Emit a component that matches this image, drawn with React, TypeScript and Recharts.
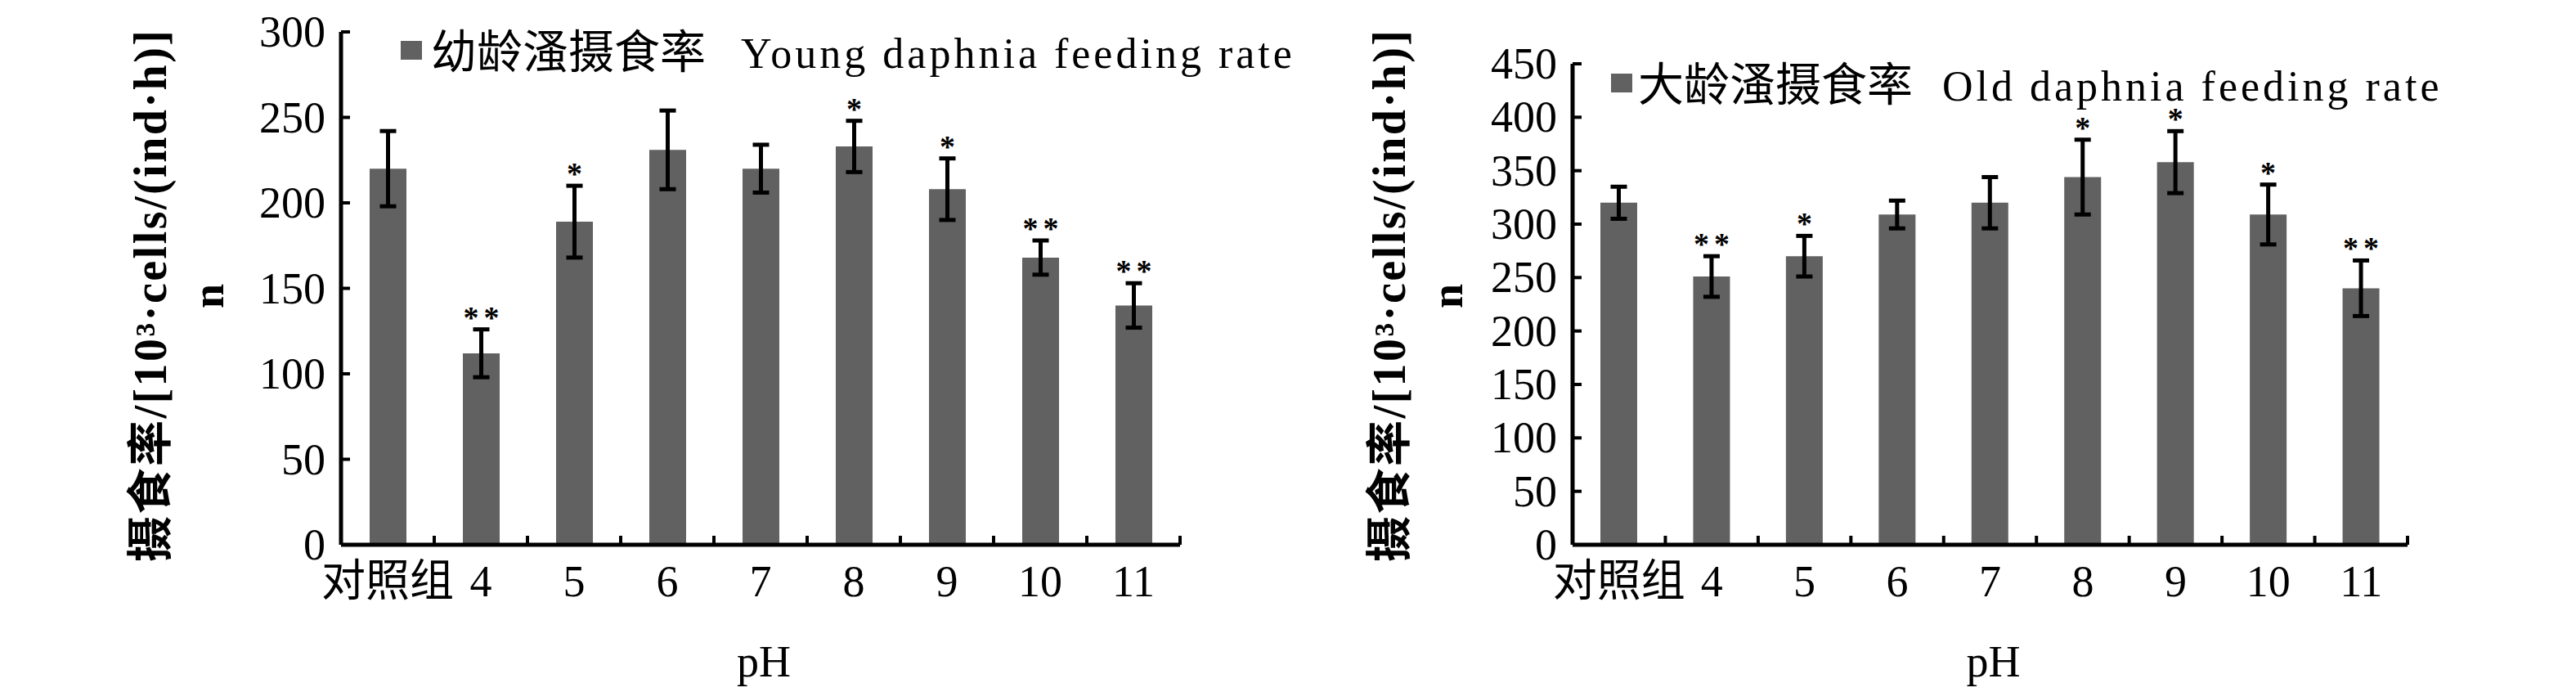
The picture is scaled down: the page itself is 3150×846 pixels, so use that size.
import React from "react";
import {
  BarChart,
  Bar,
  XAxis,
  YAxis,
  ErrorBar,
  LabelList,
  Legend,
} from "recharts";

const categories = ["对照组", "4", "5", "6", "7", "8", "9", "10", "11"];

// young daphnia
const youngRate = [220, 112, 189, 231, 220, 233, 208, 168, 140];
const youngErr = [22, 14, 21, 23, 14, 15, 18, 10, 13];
const youngSig = ["", "**", "*", "", "", "*", "*", "**", "**"];
const youngTicks = [0, 50, 100, 150, 200, 250, 300];
const youngLegend = ["幼龄溞摄食率", "Young daphnia feeding rate"];

// old daphnia
const oldRate = [320, 251, 270, 309, 320, 344, 358, 309, 240];
const oldErr = [15, 19, 19, 13, 24, 35, 29, 28, 26];
const oldSig = ["", "**", "*", "", "", "*", "*", "*", "**"];
const oldTicks = [0, 50, 100, 150, 200, 250, 300, 350, 400, 450];
const oldLegend = ["大龄溞摄食率", "Old daphnia feeding rate"];

const yTitle = "摄食率/[10³·cells/(ind·h)]";
const yTitle2 = "n";
const xTitle = "pH";

const FONT = "'Liberation Serif', 'Noto Sans CJK SC', serif";
const BAR = "#616161";
const W = 1575;
const H = 846;

interface Layout {
  left: number;
  top: number;
  axisW: number;
  right: number;
  legendX: number;
  legendBase: number;
  cjkX: number;
  latinX: number;
  titleX: number;
  nX: number;
}

const youngLayout: Layout = {
  left: 0,
  top: 39,
  axisW: 417,
  right: W - 1443,
  legendX: 490,
  legendBase: 83,
  cjkX: 527,
  latinX: 906,
  titleX: 184,
  nX: 255,
};

const oldLayout: Layout = {
  left: 1575,
  top: 78,
  axisW: 348,
  right: W - 1369,
  legendX: 395,
  legendBase: 123,
  cjkX: 428,
  latinX: 800,
  titleX: 124,
  nX: 195,
};

function YTick(props: any) {
  const { x, y, payload } = props;
  return (
    <g>
      <line x1={x} x2={x + 11} y1={y} y2={y} stroke="#000" strokeWidth={4} />
      <text
        x={x - 19}
        y={y}
        textAnchor="end"
        dominantBaseline="central"
        fontSize={54}
        fontFamily={FONT}
        fill="#000"
      >
        {payload.value}
      </text>
    </g>
  );
}

function XTick(props: any) {
  const { x, y, payload, band } = props;
  return (
    <g>
      <line
        x1={x + band / 2}
        x2={x + band / 2}
        y1={y}
        y2={y - 11}
        stroke="#000"
        strokeWidth={4}
      />
      <text
        x={x}
        y={y + 45}
        textAnchor="middle"
        dominantBaseline="central"
        fontSize={54}
        fontFamily={FONT}
        fill="#000"
      >
        {payload.value}
      </text>
    </g>
  );
}

function YTitle({ cx, nx }: { cx: number; nx: number }) {
  const cy = 362;
  return (
    <g fontFamily={FONT} fontWeight="bold" fill="#000">
      <text
        x={cx}
        y={cy}
        transform={`rotate(-90, ${cx}, ${cy})`}
        textAnchor="middle"
        dominantBaseline="central"
        fontSize={56}
        textLength={650}
        lengthAdjust="spacing"
      >
        {yTitle}
      </text>
      <text
        x={nx}
        y={cy}
        transform={`rotate(-90, ${nx}, ${cy})`}
        textAnchor="middle"
        dominantBaseline="central"
        fontSize={54}
      >
        {yTitle2}
      </text>
    </g>
  );
}

function XTitle(props: any) {
  const { viewBox } = props;
  const cx = viewBox.x + viewBox.width / 2 + 4;
  return (
    <text
      x={cx}
      y={827}
      textAnchor="middle"
      fontSize={54}
      fontFamily={FONT}
      fill="#000"
    >
      {xTitle}
    </text>
  );
}

function LegendBox({ layout, label }: { layout: Layout; label: string[] }) {
  const b = layout.legendBase;
  return (
    <svg width={W} height={160} style={{ display: "block", overflow: "visible" }}>
      <rect x={layout.legendX} y={b - 33} width={26} height={23} fill={BAR} />
      <text
        x={layout.cjkX}
        y={b}
        fill="#000"
        fontSize={56}
        fontFamily="'Noto Sans CJK SC', sans-serif"
      >
        {label[0]}
      </text>
      <text
        x={layout.latinX}
        y={b}
        fill="#000"
        fontSize={52}
        fontFamily="'Liberation Serif', serif"
        letterSpacing={4}
      >
        {label[1]}
      </text>
    </svg>
  );
}

interface ChartProps {
  rate: number[];
  err: number[];
  sig: string[];
  ticks: number[];
  label: string[];
  layout: Layout;
}

function FeedingChart({ rate, err, sig, ticks, label, layout }: ChartProps) {
  const data = categories.map((name, i) => ({
    name,
    rate: rate[i],
    err: err[i],
    sig: sig[i],
  }));
  const plotW = W - layout.axisW - layout.right;
  const band = plotW / categories.length;

  const renderSig = (p: any) => {
    const { x, y, width, height, index } = p;
    const txt = sig[index];
    if (!txt) return null;
    const v = rate[index];
    const errTop = y - (err[index] * height) / v;
    return (
      <text
        x={x + width / 2 + 3}
        y={errTop - 2}
        textAnchor="middle"
        fontSize={38}
        fontWeight="bold"
        letterSpacing={6}
        fontFamily="'Liberation Serif', serif"
        fill="#000"
      >
        {txt}
      </text>
    );
  };

  return (
    <div style={{ position: "absolute", left: layout.left, top: 0 }}>
      <BarChart
        width={W}
        height={H}
        data={data}
        barSize={45}
        margin={{ top: layout.top, right: layout.right, bottom: 0, left: 0 }}
      >
        <XAxis
          dataKey="name"
          interval={0}
          height={H - 666}
          tickSize={0}
          tickMargin={0}
          tickLine={false}
          axisLine={{ stroke: "#000", strokeWidth: 5 }}
          tick={<XTick band={band} />}
          label={<XTitle />}
        />
        <YAxis
          type="number"
          domain={[0, ticks[ticks.length - 1]]}
          ticks={ticks}
          interval={0}
          width={layout.axisW}
          tickSize={0}
          tickMargin={0}
          tickLine={false}
          axisLine={{ stroke: "#000", strokeWidth: 5 }}
          tick={<YTick />}
          label={<YTitle cx={layout.titleX} nx={layout.nX} />}
        />
        <Legend
          layout="horizontal"
          verticalAlign="middle"
          align="center"
          wrapperStyle={{ left: 0, top: 0, width: W, height: 160 }}
          content={() => <LegendBox layout={layout} label={label} />}
        />
        <Bar
          dataKey="rate"
          name={label.join(" ")}
          fill={BAR}
          isAnimationActive={false}
        >
          <ErrorBar
            dataKey="err"
            width={10}
            stroke="#000"
            strokeWidth={5}
            direction="y"
            isAnimationActive={false}
          />
          <LabelList dataKey="sig" content={renderSig} />
        </Bar>
      </BarChart>
    </div>
  );
}

export default function App() {
  return (
    <div
      style={{
        position: "absolute",
        left: 0,
        top: 0,
        width: 3150,
        height: H,
        background: "#fff",
        overflow: "hidden",
      }}
    >
      <FeedingChart
        rate={youngRate}
        err={youngErr}
        sig={youngSig}
        ticks={youngTicks}
        label={youngLegend}
        layout={youngLayout}
      />
      <FeedingChart
        rate={oldRate}
        err={oldErr}
        sig={oldSig}
        ticks={oldTicks}
        label={oldLegend}
        layout={oldLayout}
      />
    </div>
  );
}
